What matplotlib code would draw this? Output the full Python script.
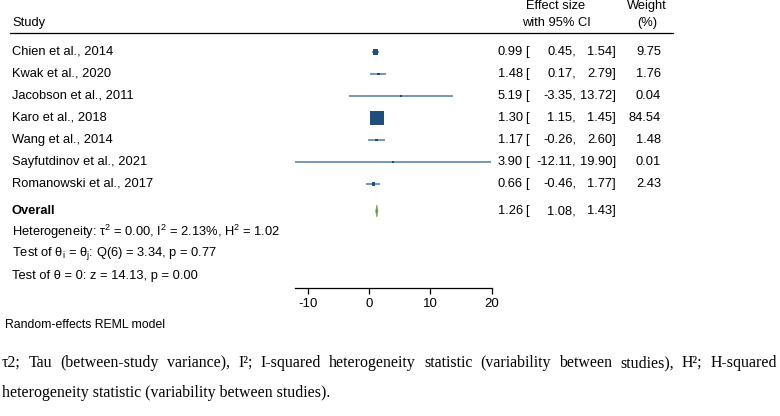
import matplotlib.pyplot as plt
import matplotlib.transforms as mtransforms

plt.rcParams['font.family'] = ['Liberation Sans', 'DejaVu Sans']
plt.rcParams['mathtext.fontset'] = 'custom'
plt.rcParams['mathtext.rm'] = 'Liberation Sans'
plt.rcParams['axes.unicode_minus'] = False

# data
studies = ['Chien et al., 2014', 'Kwak et al., 2020', 'Jacobson et al., 2011',
           'Karo et al., 2018', 'Wang et al., 2014', 'Sayfutdinov et al., 2021',
           'Romanowski et al., 2017']
est = [0.99, 1.48, 5.19, 1.30, 1.17, 3.90, 0.66]
lower = [0.45, 0.17, -3.35, 1.15, -0.26, -12.11, -0.46]
upper = [1.54, 2.79, 13.72, 1.45, 2.60, 19.90, 1.77]
weights = [9.75, 1.76, 0.04, 84.54, 1.48, 0.01, 2.43]
overall = [1.26, 1.08, 1.43]
xticks = [-10, 0, 10, 20]

W, H = 780, 416
fig = plt.figure(figsize=(W / 100, H / 100), dpi=100)

# plot area in pixels
x0, x1 = 295, 491.5
ytop, ybot = 0, 288
ax = fig.add_axes([x0 / W, 1 - ybot / H, (x1 - x0) / W, (ybot - ytop) / H])

row_px = 22.0
first_row = 52.0
def py(y_pix):
    # pixel position -> row units
    return (y_pix - first_row) / row_px

ax.set_xlim(-12.11, 19.90)
ax.set_ylim(py(ybot), py(ytop))

rows = list(range(len(studies)))
ax.hlines(rows, lower, upper, color='#6b8fb3', lw=1.3, zorder=1)
sizes = [2.5 + w * 1.18 for w in weights]
ax.scatter(est, rows, s=sizes, marker='s', color='#1f4e79', zorder=2, linewidths=0)

yo = py(211)
h = 0.27
ax.fill([overall[1], overall[0], overall[2], overall[0]], [yo, yo - h, yo, yo + h],
        color='#5b8a32', ec='#7fa85a', lw=0.6, zorder=2)

for s in ['top', 'right', 'left']:
    ax.spines[s].set_visible(False)
ax.spines['bottom'].set_linewidth(0.9)
ax.set_yticks([])
ax.set_xticks(xticks)
ax.tick_params(axis='x', length=4, width=0.9, labelsize=9.5, pad=3)

tr = mtransforms.blended_transform_factory(fig.transFigure, ax.transData)
fs = 9.3

def fx(px):
    return px / W

# header
ax.text(fx(12), py(23), 'Study', transform=tr, fontsize=fs, va='center')
ax.text(fx(556), py(6), 'Effect size', transform=tr, fontsize=fs, va='center', ha='center')
ax.text(fx(556), py(23), 'with 95% CI', transform=tr, fontsize=fs, va='center', ha='center')
ax.text(fx(647), py(6), 'Weight', transform=tr, fontsize=fs, va='center', ha='center')
ax.text(fx(647), py(23), '(%)', transform=tr, fontsize=fs, va='center', ha='center')
ax.plot([fx(10), fx(673)], [py(33), py(33)], transform=tr, color='black', lw=0.9, clip_on=False)

def ci_text(y, e, lo, hi):
    ax.text(fx(523), y, f'{e:.2f}', transform=tr, fontsize=fs, va='center', ha='right')
    ax.text(fx(525), y, '[', transform=tr, fontsize=fs, va='center', ha='left')
    ax.text(fx(576), y, f'{lo:.2f},', transform=tr, fontsize=fs, va='center', ha='right')
    ax.text(fx(616), y, f'{hi:.2f}]', transform=tr, fontsize=fs, va='center', ha='right')

for i, name in enumerate(studies):
    ax.text(fx(12), i, name, transform=tr, fontsize=fs, va='center')
    ci_text(i, est[i], lower[i], upper[i])
    ax.text(fx(661), i, f'{weights[i]:.2f}', transform=tr, fontsize=fs, va='center', ha='right')

ax.text(fx(12), yo, 'Overall', transform=tr, fontsize=fs, va='center', fontweight='bold')
ci_text(yo, *overall)

ax.text(fx(12), py(232), 'Heterogeneity: τ$^2$ = 0.00, I$^2$ = 2.13%, H$^2$ = 1.02',
        transform=tr, fontsize=fs, va='center')
ax.text(fx(12), py(254), r'Test of θ$_\mathrm{i}$ = θ$_\mathrm{j}$: Q(6) = 3.34, p = 0.77',
        transform=tr, fontsize=fs, va='center')
ax.text(fx(12), py(276), 'Test of θ = 0: z = 14.13, p = 0.00',
        transform=tr, fontsize=fs, va='center')

fig.text(fx(5), 1 - 325 / H, 'Random-effects REML model', fontsize=8.8, va='center')

# footnote (serif), first line justified across the width
serif = ['Liberation Serif', 'DejaVu Serif']
line1 = ('τ2; Tau (between-study variance), I²; I-squared heterogeneity statistic '
         '(variability between studies), H²; H-squared')
line2 = 'heterogeneity statistic (variability between studies).'
rend = fig.canvas.get_renderer()

t2 = fig.text(fx(2), 1 - 393 / H, line2, fontsize=10, family=serif, va='center')
w2 = t2.get_window_extent(rend).width
fsf = 10 * 328 / w2
t2.set_fontsize(fsf)

words = line1.split(' ')
texts = [fig.text(0, 1 - 363 / H, wd, fontsize=fsf, family=serif, va='center') for wd in words]
widths = [t.get_window_extent(rend).width for t in texts]
gap = (775 - sum(widths)) / (len(words) - 1)
xpos = 2
for t, wd in zip(texts, widths):
    t.set_x(fx(xpos))
    xpos += wd + gap

fig.savefig('out.png', dpi=100)
